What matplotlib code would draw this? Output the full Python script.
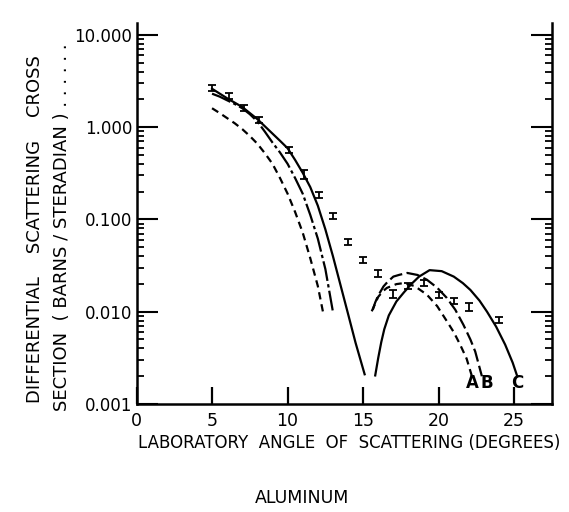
import numpy as np
import matplotlib.pyplot as plt

# Measured points (laboratory angle in degrees, cross section in barns/steradian)
data_angle = [5.0, 6.1, 7.1, 8.1, 10.1, 11.1, 12.1, 13.0, 14.0, 15.0,
              16.0, 17.0, 18.0, 19.0, 20.0, 21.0, 22.0, 24.0]
data_sigma = [2.65, 2.17, 1.61, 1.19, 0.565, 0.303, 0.184, 0.109, 0.057, 0.036,
              0.026, 0.0156, 0.019, 0.0205, 0.0152, 0.0131, 0.0112, 0.0081]
data_err = [0.08, 0.08, 0.08, 0.08, 0.08, 0.12, 0.08, 0.08, 0.08, 0.08,
            0.10, 0.10, 0.08, 0.08, 0.08, 0.08, 0.10, 0.08]

# Curve A (dashed), two lobes
a1_x = [5.0, 5.5, 6.0, 6.5, 7.0, 7.5, 8.0, 8.5, 9.0, 9.5, 10.0, 10.5, 11.0, 11.5, 12.0, 12.35]
a1_y = [1.6, 1.42, 1.25, 1.10, 0.95, 0.80, 0.66, 0.52, 0.40, 0.28, 0.19, 0.12, 0.072, 0.038, 0.019, 0.0098]
a2_x = [15.57, 15.8, 16.0, 16.3, 16.57, 17.2, 17.67, 18.4, 19.22, 19.9, 20.54, 21.0, 21.42, 21.85, 22.2]
a2_y = [0.0101, 0.0123, 0.0145, 0.0166, 0.0181, 0.0199, 0.0204, 0.0190, 0.0153, 0.0115,
        0.0079, 0.0060, 0.0044, 0.0031, 0.0020]

# Curve B (dash-dot), two lobes
b1_x = [5.0, 5.5, 6.0, 6.5, 7.0, 7.5, 8.0, 8.5, 9.0, 9.5, 10.0, 10.5, 11.0, 11.5, 12.0, 12.5, 13.0]
b1_y = [2.3, 2.14, 1.95, 1.78, 1.6, 1.38, 1.15, 0.89, 0.68, 0.53, 0.40, 0.28, 0.19, 0.112, 0.062, 0.029, 0.0100]
b2_x = [15.64, 15.8, 16.0, 16.35, 16.6, 17.0, 17.4, 17.92, 18.6, 19.22, 19.9, 20.54, 21.1, 21.64,
        22.1, 22.42, 22.86]
b2_y = [0.0105, 0.0126, 0.0150, 0.0188, 0.0209, 0.0240, 0.0251, 0.0263, 0.0250, 0.0222, 0.0182,
        0.0141, 0.0105, 0.0072, 0.0050, 0.0037, 0.0020]

# Curve C (solid), two lobes
c1_x = [5.0, 6.0, 7.0, 8.0, 9.0, 9.5, 10.0, 10.5, 11.0, 11.5, 12.0, 12.5, 13.0, 13.5, 14.0, 14.5, 15.1]
c1_y = [2.6, 2.05, 1.65, 1.22, 0.85, 0.71, 0.59, 0.44, 0.32, 0.224, 0.141, 0.078, 0.040, 0.0195,
        0.0095, 0.0046, 0.0021]
c2_x = [15.8, 16.0, 16.2, 16.4, 16.7, 17.2, 17.7, 18.2, 18.7, 19.4, 20.2, 21.0, 21.6, 22.1, 22.7,
        23.2, 23.8, 24.4, 24.9, 25.2]
c2_y = [0.00204, 0.00316, 0.00468, 0.00646, 0.00912, 0.0129, 0.0162, 0.0200, 0.0240, 0.0282,
        0.0275, 0.0240, 0.0204, 0.0172, 0.0132, 0.0100, 0.0069, 0.0044, 0.0028, 0.0020]

curve_labels = ["A", "B", "C"]
curve_label_x = [22.2, 23.2, 25.2]

ytick_vals = [0.001, 0.01, 0.1, 1.0, 10.0]
ytick_text = ["0.001", "0.010", "0.100", "1.000", "10.000"]
xtick_vals = [0, 5, 10, 15, 20, 25]

fig = plt.figure(figsize=(5.69, 5.12), dpi=100)
ax = fig.add_axes([0.2399, 0.2109, 0.7302, 0.7441])

lw = 1.6
ax.plot(a1_x, a1_y, color="black", lw=lw, dashes=(3.3, 2.2))
ax.plot(a2_x, a2_y, color="black", lw=lw, dashes=(3.3, 2.2))
ax.plot(b1_x, b1_y, color="black", lw=lw, dashes=(9, 1.5, 1.5, 1.5))
ax.plot(b2_x, b2_y, color="black", lw=lw, dashes=(6, 2))
ax.plot(c1_x, c1_y, color="black", lw=lw)
ax.plot(c2_x, c2_y, color="black", lw=lw)

sig = np.array(data_sigma)
frac = np.array(data_err)
ax.errorbar(data_angle, sig, yerr=[sig * frac / (1 + frac), sig * frac],
            fmt="none", ecolor="black", elinewidth=1.3, capsize=3, capthick=1.3)

for lab, lx in zip(curve_labels, curve_label_x):
    ax.text(lx, 0.00168, lab, ha="center", va="center", fontsize=12, fontweight="bold")

ax.set_yscale("log")
ax.set_xlim(0, 27.5)
ax.set_ylim(0.001, 13.4)
ax.set_yticks(ytick_vals)
ax.set_yticklabels(ytick_text)
ax.set_xticks(xtick_vals)
ax.set_xticklabels([str(v) for v in xtick_vals])
ax.xaxis.set_minor_locator(plt.NullLocator())

ax.spines["top"].set_visible(False)
for s in ["left", "right", "bottom"]:
    ax.spines[s].set_linewidth(1.8)

ax.tick_params(axis="y", which="major", direction="in", length=15, width=1.5,
               left=True, right=True, labelsize=12, pad=3)
ax.tick_params(axis="y", which="minor", direction="in", length=5, width=1.3,
               left=True, right=True)
ax.tick_params(axis="x", which="major", direction="in", length=12, width=1.6,
               top=False, labelsize=12.5, pad=6)

fig.text(0.613, 0.135, "LABORATORY  ANGLE  OF  SCATTERING (DEGREES)",
         ha="center", va="center", fontsize=12)
fig.text(0.53, 0.028, "ALUMINUM", ha="center", va="center", fontsize=12.5)
fig.text(0.061, 0.552, "DIFFERENTIAL    SCATTERING    CROSS",
         rotation=90, ha="center", va="center", fontsize=13)
fig.text(0.109, 0.557, "SECTION  ( BARNS / STERADIAN ) . . . . . .",
         rotation=90, ha="center", va="center", fontsize=13)

fig.savefig("out.png", dpi=100)
